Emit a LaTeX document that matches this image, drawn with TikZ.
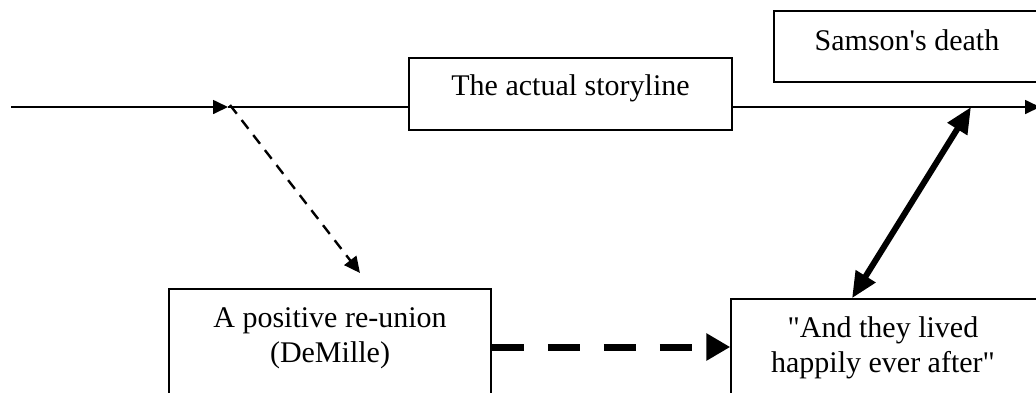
\documentclass[tikz,border=0pt]{standalone}
\usepackage{fontspec}
\setmainfont{Liberation Serif}
\usetikzlibrary{arrows.meta, positioning, calc}

\tikzset{
  plotbox/.style={draw, line width=1.5pt, inner sep=0pt},
  plottext/.style={font=\fontsize{30}{35}\selectfont, align=center, inner sep=0pt},
  storyline/.style={line width=1.7pt},
  storyarrow/.style={line width=1.7pt, -{Triangle[length=15pt, width=14pt]}},
  altarrow/.style={line width=2.4pt, dash pattern=on 11pt off 8pt, -{Triangle[length=16pt, width=15pt]}},
  endarrow/.style={line width=7pt, dash pattern=on 32pt off 24pt, -{Triangle[length=24pt, width=26pt]}},
  linkarrow/.style={line width=6pt, {Triangle[length=26pt, width=22pt]}-{Triangle[length=26pt, width=22pt]}}
}

\begin{document}
\begin{tikzpicture}[x=1pt, y=-1pt]
  \useasboundingbox (0, 0) rectangle (1036, 392);

  % boxes
  \node[plotbox, minimum width=323, minimum height=72] (story) at (570.5, 94) {};
  \node[plotbox, minimum width=263, minimum height=71] (death) at (905.5, 46.5) {};
  \node[plotbox, minimum width=322, minimum height=116] (reunion) at (330, 347) {};
  \node[plotbox, minimum width=310, minimum height=96] (happy) at (886, 347) {};

  % texts
  \node[plottext, anchor=base] (storytxt) at (570.5, 95) {The actual storyline};
  \node[plottext, anchor=base] (deathtxt) at (907, 50) {Samson\textquotesingle s death};
  \node[plottext] (reuniontxt) at (330, 338) {A positive re-union\\(DeMille)};
  \node[plottext] (happytxt) at (883, 348) {\textquotedbl And they lived\\happily ever after\textquotedbl};

  % main storyline
  \coordinate (start) at (11, 107);
  \coordinate (fork) at (228, 107);
  \coordinate (end) at (1040, 107);
  \draw[storyarrow] (start) -- (fork);
  \draw[storyline] (fork) -- (story.west |- fork);
  \draw[storyarrow] (story.east |- fork) -- (end);

  % alternative ending
  \coordinate (alttip) at (360, 273);
  \draw[altarrow] ([xshift=2pt, yshift=2pt]fork) -- (alttip);
  \draw[endarrow] (reunion.east) -- (happy.west);

  % link back to Samson's death
  \coordinate (meet) at (971, 107);
  \draw[linkarrow] ([xshift=-34pt]happy.north) -- (meet);
\end{tikzpicture}
\end{document}
